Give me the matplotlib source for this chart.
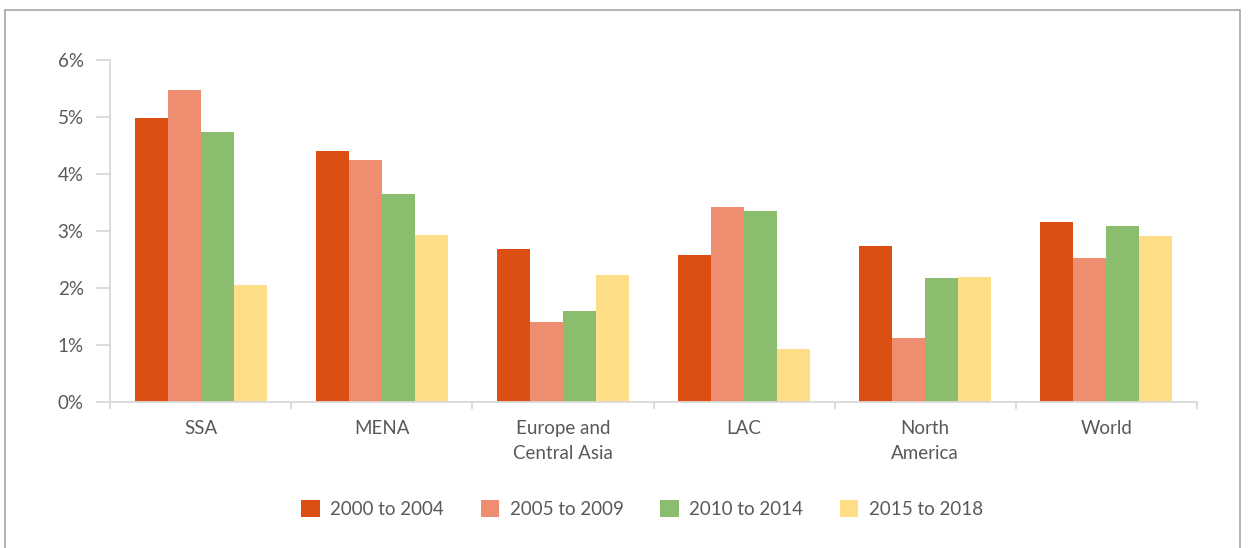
import matplotlib
matplotlib.use('Agg')
import matplotlib.pyplot as plt
import numpy as np
from matplotlib.patches import Rectangle
from matplotlib.ticker import FuncFormatter

regions = ["SSA", "MENA", "Europe and\nCentral Asia", "LAC", "North\nAmerica", "World"]
periods = ["2000 to 2004", "2005 to 2009", "2010 to 2014", "2015 to 2018"]
p2000 = [4.99, 4.40, 2.68, 2.58, 2.74, 3.16]
p2005 = [5.48, 4.25, 1.40, 3.42, 1.12, 2.53]
p2010 = [4.74, 3.65, 1.60, 3.35, 2.18, 3.09]
p2015 = [2.05, 2.93, 2.23, 0.93, 2.20, 2.91]
colors = ["#DC4F13", "#EE8D70", "#8ABE6E", "#FFDE87"]

plt.rcParams['font.family'] = ['Lato', 'DejaVu Sans']
txt = '#595959'
grey = '#D9D9D9'

fig = plt.figure(figsize=(12.48, 5.48), dpi=100)
ax = fig.add_axes([110/1248, 1-402/548, (1197-110)/1248, (402-60)/548])

# outer chart border
fig.patches.append(Rectangle((5/1248, -0.1), (1240-5)/1248, 1.1-10.5/548,
                             transform=fig.transFigure, fill=False,
                             edgecolor='#A6A6A6', lw=1.2))

x = np.arange(len(regions))
w = 0.182
series = [p2000, p2005, p2010, p2015]
for i, (vals, c, lab) in enumerate(zip(series, colors, periods)):
    ax.bar(x + (i - 1.5)*w, vals, w, color=c, label=lab, zorder=2)

ax.set_xlim(-0.5, len(regions) - 0.5)
ax.set_ylim(0, 6)
ax.set_yticks(range(0, 7))
ax.yaxis.set_major_formatter(FuncFormatter(lambda v, p: "%d%%" % v))
ax.set_xticks(x)
ax.set_xticklabels(regions, linespacing=1.6)
ax.set_xticks(np.arange(-0.5, len(regions)), minor=True)

for s in ['top', 'right']:
    ax.spines[s].set_visible(False)
for s in ['left', 'bottom']:
    ax.spines[s].set_color(grey)
    ax.spines[s].set_linewidth(1.3)

ax.tick_params(axis='y', length=10, width=1.3, color=grey, pad=9,
               labelsize=13.5, labelcolor=txt)
ax.tick_params(axis='x', which='major', length=0, pad=13,
               labelsize=13.5, labelcolor=txt)
ax.tick_params(axis='x', which='minor', length=5, width=1.3, color=grey)
for t in ax.get_xticklabels():
    t.set_verticalalignment('top')

leg = fig.legend(loc='center', bbox_to_anchor=(642/1248, 1-509/548), ncol=4,
                 frameon=False, fontsize=13.5, labelcolor=txt,
                 handlelength=1.0, handleheight=1.0, handletextpad=0.55,
                 columnspacing=1.95)

fig.savefig("out.png", dpi=100)
